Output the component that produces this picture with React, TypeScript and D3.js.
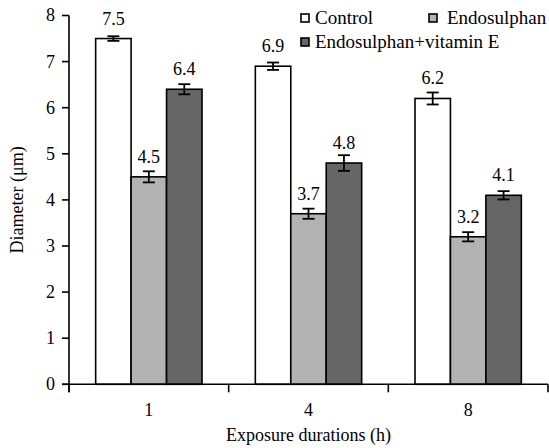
import * as d3 from 'd3';

const durations = ['1', '4', '8'];
const seriesNames = ['Control', 'Endosulphan', 'Endosulphan+vitamin E'];
const controlValues = [7.5, 6.9, 6.2];
const endosulphanValues = [4.5, 3.7, 3.2];
const vitaminEValues = [6.4, 4.8, 4.1];
const controlErrors = [0.05, 0.08, 0.13];
const endosulphanErrors = [0.12, 0.11, 0.1];
const vitaminEErrors = [0.11, 0.17, 0.09];
const yTicks = [0, 1, 2, 3, 4, 5, 6, 7, 8];

const colors = ['#ffffff', '#b3b3b3', '#666666'];
const txt = { fontFamily: "'Liberation Serif', 'DejaVu Serif', serif" };

export default function App() {
  const width = 549;
  const height = 448;

  const x = d3.scaleBand().domain(durations).range([69, 548]).padding(0);
  const bw = x.bandwidth();
  const xs = d3
    .scaleBand()
    .domain(seriesNames)
    .range([bw * 0.167, bw * 0.833])
    .padding(0);
  const y = d3.scaleLinear().domain([0, 8]).range([384.3, 15.5]);

  const values = [controlValues, endosulphanValues, vitaminEValues];
  const errors = [controlErrors, endosulphanErrors, vitaminEErrors];

  const bars = durations.flatMap((d, i) =>
    seriesNames.map((s, j) => ({
      dur: d,
      series: s,
      value: values[j][i],
      err: errors[j][i],
      color: colors[j],
    }))
  );

  const x0 = x.range()[0];
  const x1 = x.range()[1];
  const boundaries = [...durations.map(d => x(d) as number), x1];

  return (
    <svg
      width={width}
      height={height}
      style={{ position: 'absolute', left: 0, top: 0, background: '#fff' }}
    >
      {/* bars */}
      {bars.map(b => {
        const bx = (x(b.dur) as number) + (xs(b.series) as number);
        return (
          <rect
            key={b.dur + b.series}
            x={bx}
            y={y(b.value)}
            width={xs.bandwidth()}
            height={y(0) - y(b.value)}
            fill={b.color}
            stroke="#000"
            strokeWidth={1.6}
          />
        );
      })}

      {/* error bars */}
      {bars.map(b => {
        const cx = (x(b.dur) as number) + (xs(b.series) as number) + xs.bandwidth() / 2;
        return (
          <g key={'e' + b.dur + b.series} stroke="#000" strokeWidth={1.8}>
            <line x1={cx} x2={cx} y1={y(b.value + b.err)} y2={y(b.value - b.err)} />
            <line x1={cx - 6} x2={cx + 6} y1={y(b.value + b.err)} y2={y(b.value + b.err)} />
            <line x1={cx - 6} x2={cx + 6} y1={y(b.value - b.err)} y2={y(b.value - b.err)} />
          </g>
        );
      })}

      {/* value labels */}
      {bars.map(b => {
        const cx = (x(b.dur) as number) + (xs(b.series) as number) + xs.bandwidth() / 2;
        return (
          <text
            key={'v' + b.dur + b.series}
            x={cx}
            y={y(b.value) - 14}
            textAnchor="middle"
            fontSize={18}
            style={txt}
          >
            {b.value.toFixed(1)}
          </text>
        );
      })}

      {/* y axis */}
      <line x1={x0} x2={x0} y1={y(8)} y2={y(0) + 8} stroke="#000" strokeWidth={1.6} />
      {yTicks.map(t => (
        <g key={'y' + t}>
          <line x1={x0 - 7} x2={x0} y1={y(t)} y2={y(t)} stroke="#000" strokeWidth={1.6} />
          <text x={55} y={y(t)} dy="0.33em" textAnchor="end" fontSize={18} style={txt}>
            {t}
          </text>
        </g>
      ))}

      {/* x axis */}
      <line x1={x0 - 7} x2={x1} y1={y(0)} y2={y(0)} stroke="#000" strokeWidth={1.6} />
      {boundaries.map((bx, i) => (
        <line key={'xt' + i} x1={bx} x2={bx} y1={y(0)} y2={y(0) + 8} stroke="#000" strokeWidth={1.6} />
      ))}
      {durations.map(d => (
        <text key={'xl' + d} x={(x(d) as number) + bw / 2} y={416} textAnchor="middle" fontSize={18} style={txt}>
          {d}
        </text>
      ))}

      {/* axis titles */}
      <text x={(x0 + x1) / 2} y={441} textAnchor="middle" fontSize={18} style={txt}>
        Exposure durations (h)
      </text>
      <text
        transform={`translate(17,${(y(0) + y(8)) / 2}) rotate(-90)`}
        textAnchor="middle"
        dy="0.33em"
        fontSize={18}
        style={txt}
      >
        Diameter (μm)
      </text>

      {/* legend */}
      {[
        { name: seriesNames[0], color: colors[0], sx: 301, tx: 315, cy: 18 },
        { name: seriesNames[1], color: colors[1], sx: 429, tx: 447, cy: 18 },
        { name: seriesNames[2], color: colors[2], sx: 301, tx: 315, cy: 42 },
      ].map(l => (
        <g key={'lg' + l.name}>
          <rect x={l.sx} y={l.cy - 4} width={8} height={8} fill={l.color} stroke="#000" strokeWidth={1.6} />
          <text x={l.tx} y={l.cy} dy="0.33em" fontSize={19} style={txt}>
            {l.name}
          </text>
        </g>
      ))}
    </svg>
  );
}
